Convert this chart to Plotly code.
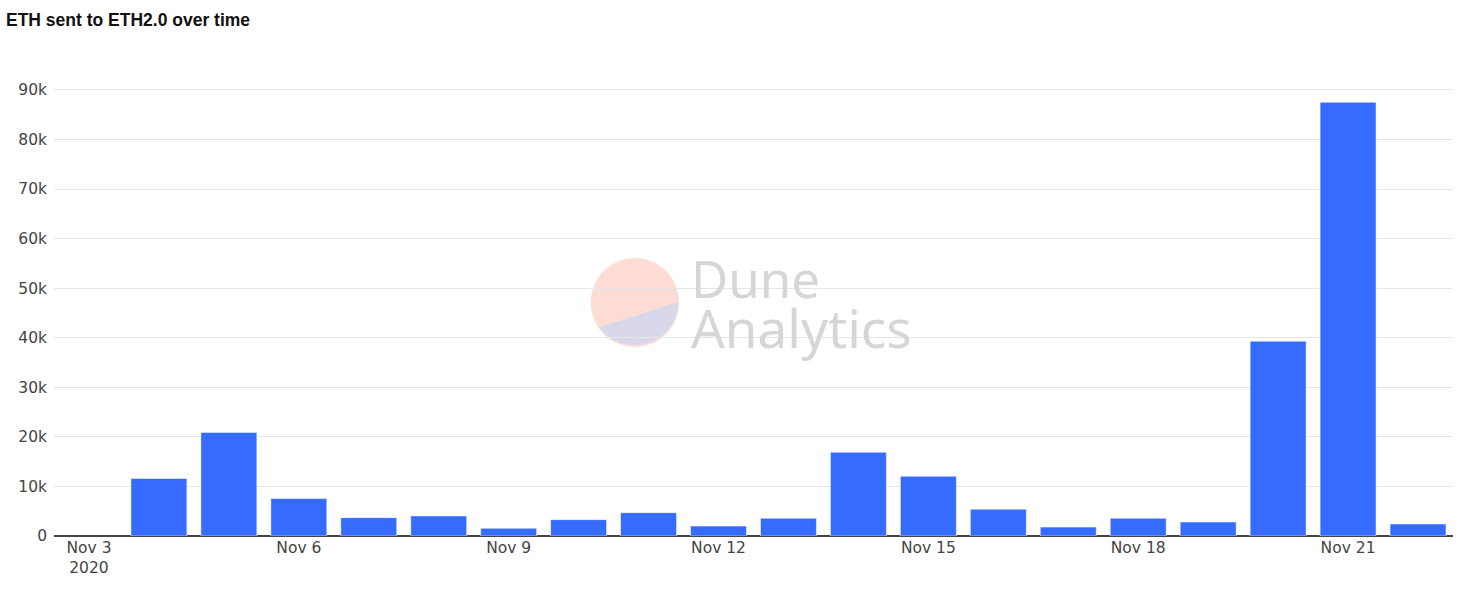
import plotly.graph_objects as go
import base64

# ---- data ----
dates = ["2020-11-03", "2020-11-04", "2020-11-05", "2020-11-06", "2020-11-07",
         "2020-11-08", "2020-11-09", "2020-11-10", "2020-11-11", "2020-11-12",
         "2020-11-13", "2020-11-14", "2020-11-15", "2020-11-16", "2020-11-17",
         "2020-11-18", "2020-11-19", "2020-11-20", "2020-11-21", "2020-11-22"]
eth_sent = [0, 11600, 20900, 7550, 3700,
            4050, 1550, 3300, 4700, 2000,
            3570, 16900, 12050, 5400, 1800,
            3570, 2830, 39300, 87500, 2420]
y_tickvals = [0, 10000, 20000, 30000, 40000, 50000, 60000, 70000, 80000, 90000]
y_ticktext = ["0", "10k", "20k", "30k", "40k", "50k", "60k", "70k", "80k", "90k"]
title_text = "ETH sent to ETH2.0 over time"

W, H = 1465, 593
ML, MR, MT, MB = 54, 12, 80, 57
PW, PH = W - ML - MR, H - MT - MB

def px_x(p):
    return (p - ML) / PW

def px_y(p):
    return (H - MB - p) / PH

line_widths = [0 if v == 0 else 1 for v in eth_sent]

fig = go.Figure(go.Bar(
    x=dates, y=eth_sent,
    marker=dict(color="#366bff", line=dict(color="rgba(255,255,255,0.5)", width=line_widths)),
    hoverinfo="x+y",
))

# watermark logo (circle) as svg image
svg = ('<svg xmlns="http://www.w3.org/2000/svg" viewBox="0 0 100 100">'
       '<circle cx="50" cy="50" r="50" fill="#fcdcd5"/>'
       '<path d="M 9.7 77.9 L 99.7 49.1 A 50 50 0 0 1 9.7 77.9 Z" fill="#d8d8ea"/>'
       '</svg>')
uri = "data:image/svg+xml;base64," + base64.b64encode(svg.encode()).decode()

fig.add_layout_image(dict(
    source=uri, xref="paper", yref="paper",
    x=px_x(590.7), y=px_y(258), sizex=88.3 / PW, sizey=89 / PH,
    xanchor="left", yanchor="top", sizing="stretch", layer="below", opacity=1,
))

fig.add_annotation(text="Dune", xref="paper", yref="paper", x=px_x(689), y=px_y(278),
                   xanchor="left", yanchor="middle", showarrow=False,
                   font=dict(family="Noto Sans", size=51, color="#d6d6d6"))
fig.add_annotation(text="Analytics", xref="paper", yref="paper", x=px_x(689), y=px_y(327),
                   xanchor="left", yanchor="middle", showarrow=False,
                   font=dict(family="Noto Sans", size=53, color="#d6d6d6"))

fig.update_layout(
    width=W, height=H,
    margin=dict(l=ML, r=MR, t=MT, b=MB),
    paper_bgcolor="white", plot_bgcolor="white",
    bargap=0.2,
    showlegend=False,
    title=dict(text="<b>" + title_text + "</b>", x=6 / W, xanchor="left", y=1 - 20 / H, yanchor="middle",
               font=dict(family="Liberation Sans", size=17.5, color="#111")),
    xaxis=dict(
        type="date",
        range=["2020-11-02 12:00", "2020-11-22 12:00"],
        tick0="2020-11-03", dtick=3 * 86400000,
        showgrid=False, ticks="", showline=False,
        tickfont=dict(family="DejaVu Sans", size=15.5, color="#444"),
    ),
    yaxis=dict(
        range=[0, 92000],
        tickvals=y_tickvals, ticktext=y_ticktext,
        showgrid=True, gridcolor="#e6e6e6", gridwidth=1,
        zeroline=True, zerolinecolor="#444", zerolinewidth=2,
        tickfont=dict(family="DejaVu Sans", size=15.5, color="#444"),
        ticklabelstandoff=6,
    ),
)

fig.write_html("out.html", config={"displayModeBar": False},
               post_script="document.body.style.margin='0px';")
